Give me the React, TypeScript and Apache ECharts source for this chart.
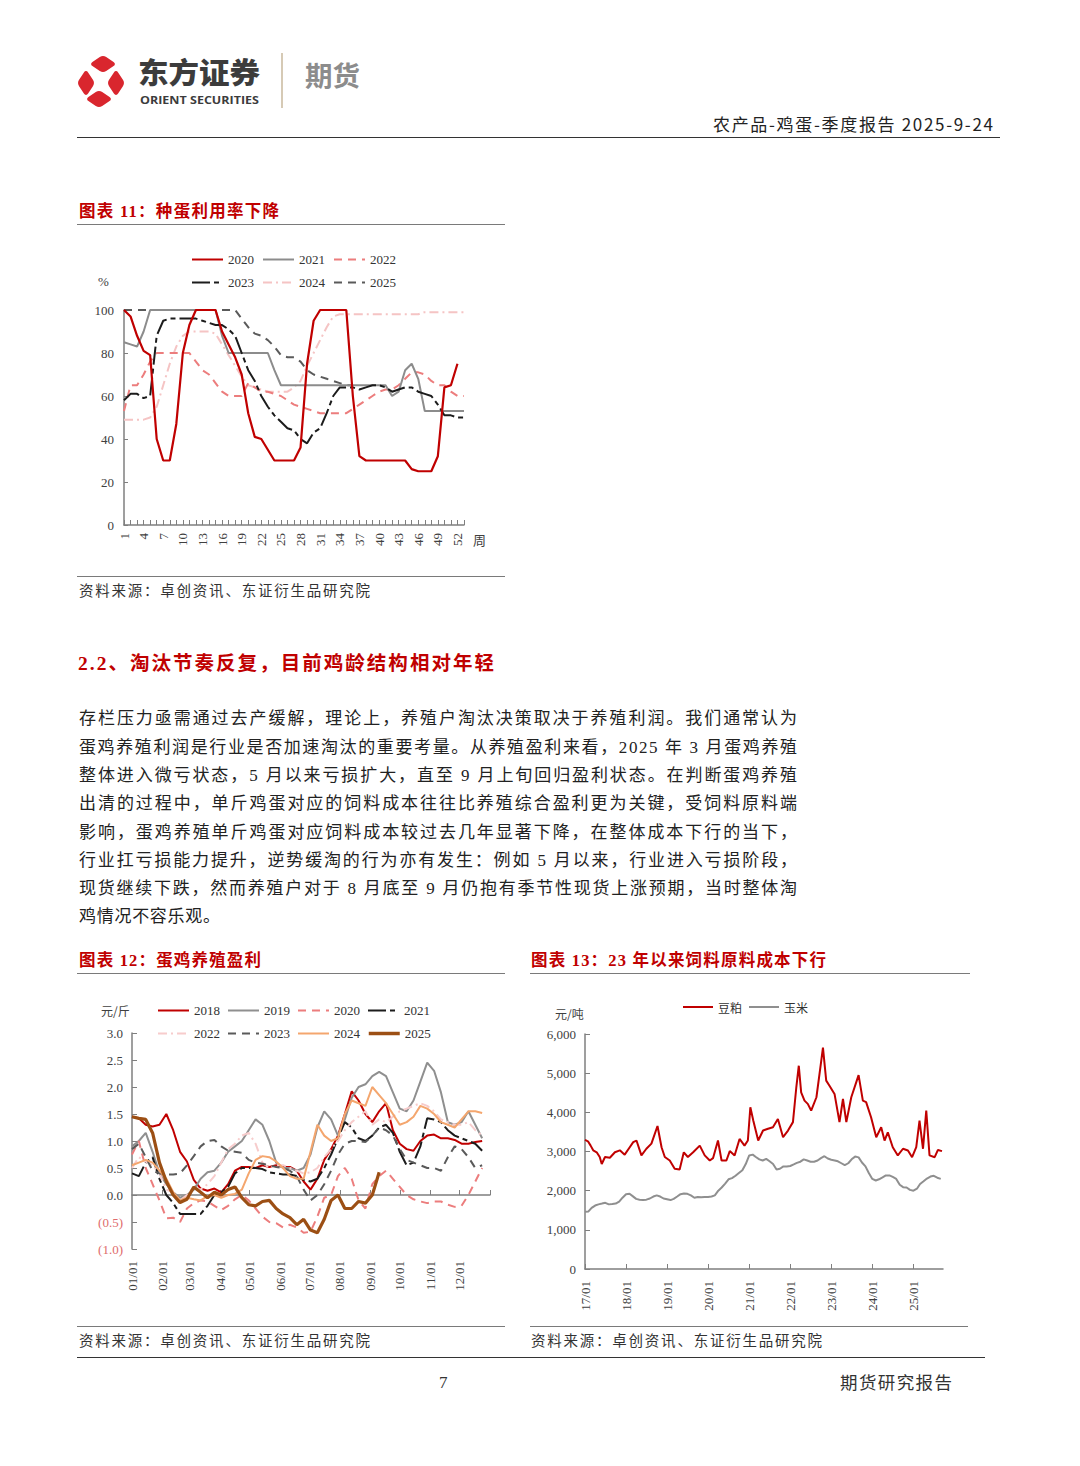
import React, { useEffect, useRef } from "react";
import * as echarts from "echarts";

const SERIF = "'Liberation Serif', 'Times New Roman', serif";
const CJK = "'Noto Sans CJK SC', sans-serif";
const MIX = "'Liberation Serif', 'Noto Sans CJK SC', serif";
const AXIS = "#7f7f7f";
const LABEL = "#404040";

// ---------------- Chart 11: 种蛋利用率 (%) by week ----------------
const weekLabels = Array.from({ length: 53 }, (_, i) => String(i + 1));
const hatch2020 = [100, 97, 88, 81, 79, 40, 30, 30, 47, 80, 93, 100, 100, 100, 100, 90, 84, 78, 70, 52, 41, 40, 35, 30, 30, 30, 30, 36, 75, 95, 100, 100, 100, 100, 100, 60, 32, 30, 30, 30, 30, 30, 30, 30, 26, 25, 25, 25, 32, 64, 65, 75, null];
const hatch2021 = [85, 84, 83, 90, 100, 100, 100, 100, 100, 100, 100, 100, 100, 100, 100, 88, 80, 80, 80, 80, 80, 80, 80, 72, 65, 65, 65, 65, 65, 65, 65, 65, 65, 65, 65, 65, 65, 65, 65, 65, 65, 60, 62, 72, 75, 68, 53, 53, 53, 53, 53, 53, 53];
const hatch2022 = [53, 65, 65, 70, 76, 80, 80, 80, 80, 80, 80, 76, 72, 70, 66, 62, 60, 60, 60, 66, 64, 62, 62, 61, 60, 58, 56, 55, 54, 53, 52, 52, 52, 52, 52, 54, 56, 58, 60, 62, 63, 63, 65, 68, 71, 71, 70, 67, 65, 65, 62, 60, 60];
const hatch2023 = [58, 61, 61, 59, 60, 88, 95, 96, 96, 96, 96, 96, 95, 94, 93, 93, 91, 88, 80, 72, 67, 60, 55, 51, 48, 45, 44, 40, 38, 43, 45, 52, 60, 64, 64, 64, 63, 64, 65, 65, 64, 62, 63, 64, 64, 62, 61, 60, 56, 51, 51, 50, 50];
const hatch2024 = [49, 49, 49, 49, 50, 55, 65, 75, 83, 88, 90, 90, 90, 90, 89, 84, 79, 74, 69, 65, 64, 63, 62, 62, 62, 62, 64, 67, 74, 80, 86, 92, 97, 98, 98, 98, 98, 98, 98, 98, 98, 98, 98, 98, 98, 98, 99, 99, 99, 99, 99, 99, 99];
const hatch2025 = [100, 100, 100, 100, 100, 100, 100, 100, 100, 100, 100, 100, 100, 100, 100, 100, 100, 100, 96, 92, 89, 88, 86, 83, 79, 78, 78, 76, 72, 70, 69, 68, 67, 66, 65, 65];

// ---------------- Chart 12: 蛋鸡养殖盈利 (元/斤), weekly ----------------
const monthStartDays = [0, 31, 59, 90, 120, 151, 181, 212, 243, 273, 304, 334];
const monthTickDays = [31, 59, 90, 120, 151, 181, 212, 243, 273, 304, 334, 365];
const monthLabels = ["01/01", "02/01", "03/01", "04/01", "05/01", "06/01", "07/01", "08/01", "09/01", "10/01", "11/01", "12/01"];
const weekDays = Array.from({ length: 52 }, (_, i) => i * 7);
const profit2018 = [1.45, 1.42, 1.3, 1.27, 1.3, 1.5, 1.2, 0.8, 0.62, 0.28, 0.12, 0.08, 0.12, 0.05, 0.2, 0.45, 0.52, 0.52, 0.5, 0.55, 0.52, 0.55, 0.52, 0.52, 0.45, 0.25, 0.1, 0.3, 0.65, 0.85, 1.1, 1.5, 1.92, 1.75, 1.5, 1.35, 1.55, 1.7, 1.2, 0.95, 0.85, 0.82, 1.0, 1.1, 1.12, 1.05, 1.05, 1.02, 0.95, 0.95, 0.98, 1.0];
const profit2019 = [0.9, 1.0, 1.15, 0.8, 0.4, 0.2, 0.05, -0.05, 0.0, 0.1, 0.3, 0.42, 0.45, 0.6, 0.8, 0.9, 1.0, 1.2, 1.4, 1.3, 1.0, 0.6, 0.5, 0.5, 0.45, 0.5, 0.75, 1.25, 1.55, 1.4, 1.1, 1.4, 1.8, 2.0, 2.05, 2.2, 2.28, 2.2, 1.9, 1.6, 1.55, 1.75, 2.1, 2.45, 2.3, 1.9, 1.35, 1.3, 1.35, 1.55, 1.3, 1.05];
const profit2020 = [0.75, 1.0, 0.5, 0.2, -0.1, -0.43, -0.42, -0.5, -0.25, -0.15, -0.1, -0.12, -0.2, -0.28, -0.2, -0.08, 0.0, -0.1, -0.25, -0.4, -0.5, -0.52, -0.6, -0.55, -0.6, -0.7, -0.68, -0.4, -0.05, 0.0, 0.35, 0.5, 0.3, -0.1, -0.25, 0.2, 0.35, 0.45, 0.3, 0.15, 0.0, -0.08, -0.12, -0.15, -0.12, -0.12, -0.18, -0.22, -0.2, 0.0, 0.25, 0.5];
const profit2021 = [0.4, 0.35, 0.6, 0.7, 0.3, 0.0, -0.15, -0.35, -0.35, -0.35, -0.35, -0.2, 0.0, 0.05, 0.15, 0.4, 0.5, 0.5, 0.5, 0.48, 0.42, 0.4, 0.38, 0.38, 0.35, 0.28, 0.25, 0.3, 0.5, 0.75, 1.05, 1.35, 1.25, 1.05, 1.0, 1.1, 1.25, 1.3, 1.15, 0.8, 0.55, 0.6, 0.9, 1.42, 1.4, 1.35, 1.2, 1.1, 1.05, 1.0, 0.95, 0.82];
const profit2022 = [0.5, 0.7, 0.62, 0.55, 0.4, 0.1, 0.05, -0.1, 0.0, 0.15, 0.1, 0.2, 0.35, 0.6, 0.85, 0.95, 1.1, 1.15, 0.95, 0.6, 0.5, 0.55, 0.55, 0.5, 0.45, 0.4, 0.42, 0.5, 0.7, 0.85, 1.0, 1.2, 1.35, 1.45, 1.55, 1.3, 1.4, 1.35, 1.45, 1.55, 1.6, 1.65, 1.7, 1.65, 1.55, 1.4, 1.35, 1.3, 1.3, 1.35, 1.2, 1.1];
const profit2023 = [0.85, 0.95, 0.7, 0.45, 0.4, 0.38, 0.38, 0.4, 0.55, 0.72, 0.9, 1.0, 1.02, 0.9, 0.82, 0.8, 0.78, 0.65, 0.6, 0.58, 0.55, 0.52, 0.5, 0.45, 0.35, 0.1, -0.1, 0.0, 0.2, 0.45, 0.75, 0.95, 1.0, 1.0, 0.98, 1.1, 1.25, 1.2, 1.1, 0.85, 0.65, 0.6, 0.55, 0.5, 0.5, 0.45, 0.7, 0.9, 0.85, 0.7, 0.5, 0.55];
const profit2024 = [0.55, 0.6, 0.65, 0.6, 0.45, 0.3, 0.05, -0.1, -0.05, -0.08, -0.1, -0.02, 0.0, -0.05, 0.0, 0.02, 0.1, 0.4, 0.65, 0.72, 0.7, 0.62, 0.5, 0.35, 0.3, 0.3, 0.8, 1.3, 1.1, 1.0, 1.05, 1.5, 1.75, 1.7, 1.65, 2.0, 1.85, 1.7, 1.5, 1.3, 1.35, 1.45, 1.65, 1.6, 1.5, 1.35, 1.3, 1.25, 1.4, 1.55, 1.55, 1.52];
const profit2025 = [1.45, 1.42, 1.4, 1.15, 0.6, 0.25, 0.0, -0.14, -0.08, 0.15, 0.05, -0.05, 0.05, 0.0, 0.1, 0.15, -0.05, -0.18, -0.2, -0.12, -0.1, -0.25, -0.35, -0.42, -0.55, -0.45, -0.65, -0.7, -0.45, -0.1, 0.0, -0.25, -0.25, -0.12, -0.15, 0.0, 0.42];

// ---------------- Chart 13: 豆粕 / 玉米 (元/吨) ----------------
const yearLabels = ["17/01", "18/01", "19/01", "20/01", "21/01", "22/01", "23/01", "24/01", "25/01"];
const yearTicks = [0, 1, 2, 3, 4, 5, 6, 7, 8];
const soymeal: [string, number][] = [
  ["2017-01-01", 3300], ["2017-01-30", 3250], ["2017-02-20", 3150], ["2017-03-15", 3030], ["2017-04-15", 2980], ["2017-05-12", 2860], ["2017-05-30", 2680], ["2017-06-28", 2860], ["2017-08-10", 2840], ["2017-09-24", 2980], ["2017-11-07", 3030], ["2017-12-20", 2920],
  ["2018-02-03", 3110], ["2018-03-06", 3240], ["2018-04-04", 3280], ["2018-05-18", 2900], ["2018-07-01", 3070], ["2018-08-15", 3200], ["2018-10-08", 3650], ["2018-11-13", 3110], ["2018-12-12", 2860],
  ["2019-01-25", 2770], ["2019-03-10", 2560], ["2019-04-23", 2540], ["2019-05-30", 2980], ["2019-07-05", 2860], ["2019-08-21", 2980], ["2019-10-19", 3150], ["2019-12-02", 2900],
  ["2020-01-16", 2770], ["2020-02-14", 2830], ["2020-03-29", 3280], ["2020-04-30", 2770], ["2020-06-12", 2770], ["2020-07-12", 3010], ["2020-08-24", 2900], ["2020-10-07", 3320], ["2020-11-20", 3150], ["2020-12-20", 3280],
  ["2021-01-11", 4130], ["2021-02-06", 3790], ["2021-03-22", 3280], ["2021-05-04", 3535], ["2021-06-17", 3580], ["2021-07-31", 3620], ["2021-09-13", 3830], ["2021-10-29", 3365], ["2021-12-12", 3535],
  ["2022-01-25", 3750], ["2022-02-24", 4640], ["2022-03-18", 5190], ["2022-04-08", 4510], ["2022-05-08", 4300], ["2022-06-06", 4215], ["2022-07-06", 4045], ["2022-08-22", 4385], ["2022-10-04", 5320], ["2022-10-19", 5650], ["2022-11-17", 4810], ["2022-12-16", 4680],
  ["2023-01-30", 4470], ["2023-03-15", 3750], ["2023-04-15", 4340], ["2023-05-15", 3750], ["2023-06-28", 4385], ["2023-09-01", 4950], ["2023-10-09", 4300], ["2023-11-07", 4260], ["2023-12-21", 3875],
  ["2024-02-05", 3365], ["2024-03-20", 3620], ["2024-04-19", 3280], ["2024-05-18", 3490], ["2024-07-01", 3110], ["2024-08-15", 2900], ["2024-09-30", 3070], ["2024-11-13", 3025], ["2024-12-20", 2855],
  ["2025-01-26", 3110], ["2025-02-24", 3790], ["2025-03-27", 3070], ["2025-04-25", 4045], ["2025-05-24", 2900], ["2025-07-09", 2855], ["2025-08-07", 3040], ["2025-09-12", 3010],
];
const cornStart = "2017-01";
const cornMonthly = [
  1460, 1470, 1560, 1620, 1650, 1670, 1690, 1650, 1660, 1670, 1720, 1820,
  1910, 1920, 1860, 1790, 1770, 1760, 1770, 1800, 1850, 1880, 1850, 1800,
  1780, 1760, 1790, 1850, 1910, 1930, 1920, 1880, 1820, 1840, 1830, 1840,
  1840, 1850, 1880, 2000, 2080, 2180, 2290, 2320, 2380, 2450, 2520, 2680,
  2900, 2920, 2860, 2800, 2770, 2810, 2750, 2680, 2540, 2560, 2620, 2620,
  2630, 2670, 2710, 2740, 2800, 2770, 2740, 2740, 2770, 2830, 2880, 2820,
  2790, 2770, 2750, 2700, 2650, 2700, 2800, 2870, 2850, 2720, 2620, 2450,
  2300, 2260, 2290, 2340, 2390, 2390, 2350, 2300, 2150, 2090, 2080, 2020,
  2000, 2050, 2170, 2240, 2310, 2360, 2380, 2330, 2300,
];

const BASE = Date.UTC(2017, 0, 1);
const YEAR_MS = 365.25 * 86400000;
const yearsSince2017 = (s: string) => {
  const [y, m, d] = s.split("-").map(Number);
  return (Date.UTC(y, m - 1, d || 1) - BASE) / YEAR_MS;
};

const fmtThousands = (v: number) => String(v).replace(/\B(?=(\d{3})+(?!\d))/g, ",");

const legendText = { fontFamily: SERIF, fontSize: 13, color: "#333" };
const axisLineStyle = { color: AXIS, width: 1.5 };
const hiddenSymbol = { opacity: 0, color: "transparent", borderWidth: 0 };

const lineSeries = (name: string, data: any[], color: string, type: any, width = 2, extra: any = {}) => ({
  name,
  type: "line",
  data,
  symbol: "none",
  silent: true,
  connectNulls: false,
  itemStyle: { color },
  lineStyle: { color, width, type },
  ...extra,
});

const legendBase = { itemWidth: 31, itemHeight: 14, itemGap: 8, textStyle: legendText, itemStyle: hiddenSymbol, lineStyle: { width: 2 } };

const option11 = {
  animation: false,
  legend: [
    { ...legendBase, data: ["2020", "2021", "2022"], left: 110, top: 13 },
    { ...legendBase, data: ["2023", "2024", "2025"], left: 110, top: 36 },
  ],
  grid: { left: 48, top: 75, width: 340, height: 215, outerBoundsMode: "none" },
  xAxis: {
    type: "category",
    data: weekLabels,
    boundaryGap: false,
    axisLine: { lineStyle: axisLineStyle },
    axisTick: { show: true, inside: true, length: 5, interval: 0, lineStyle: { color: AXIS } },
    axisLabel: { interval: 2, rotate: 90, margin: 8, fontFamily: SERIF, fontSize: 13, color: LABEL },
    splitLine: { show: false },
  },
  yAxis: {
    type: "value",
    min: 0,
    max: 100,
    interval: 20,
    axisLine: { show: true, lineStyle: axisLineStyle },
    axisTick: { show: true, inside: true, length: 4, lineStyle: { color: AXIS } },
    axisLabel: { margin: 10, fontFamily: SERIF, fontSize: 13, color: LABEL },
    splitLine: { show: false },
  },
  graphic: [
    { type: "text", left: 22, top: 40, style: { text: "%", font: `13px ${SERIF}`, fill: LABEL } },
    { type: "text", left: 397, top: 298, style: { text: "周", font: `13px ${CJK}`, fill: LABEL } },
  ],
  series: [
    lineSeries("2025", hatch2025, "#5a5a5a", [8, 6]),
    lineSeries("2024", hatch2024, "#f5c4c4", [9, 4, 2, 4]),
    lineSeries("2022", hatch2022, "#ec7d7d", [8, 6]),
    lineSeries("2021", hatch2021, "#8c8c8c", "solid"),
    lineSeries("2023", hatch2023, "#1c1c1c", [18, 4, 5, 4]),
    lineSeries("2020", hatch2020, "#c00000", "solid", 2.2),
  ],
};

const weekPairs = (vals: number[]) => vals.map((v, i) => [weekDays[i], v]);

const option12 = {
  animation: false,
  legend: [
    { ...legendBase, itemGap: 7, data: ["2018", "2019", "2020", "2021"], left: 76, top: 9 },
    { ...legendBase, itemGap: 7, data: ["2022", "2023", "2024", { name: "2025", lineStyle: { width: 3.5 } }], left: 76, top: 32 },
  ],
  grid: { left: 56, top: 43, width: 358, height: 216, outerBoundsMode: "none" },
  xAxis: [
    {
      type: "value",
      min: 0,
      max: 365,
      position: "bottom",
      axisLine: { show: false, onZero: false },
      axisTick: { show: false },
      splitLine: { show: false },
      axisLabel: {
        customValues: monthStartDays,
        formatter: (v: number) => monthLabels[monthStartDays.indexOf(Math.round(v))] ?? "",
        rotate: 90,
        margin: 12,
        fontFamily: SERIF,
        fontSize: 13,
        color: LABEL,
      },
    },
    {
      type: "value",
      min: 0,
      max: 365,
      position: "bottom",
      axisLine: { show: true, onZero: true, lineStyle: axisLineStyle },
      axisTick: { show: true, inside: true, length: 5, customValues: monthTickDays, lineStyle: { color: AXIS } },
      axisLabel: { show: false },
      splitLine: { show: false },
    },
  ],
  yAxis: {
    type: "value",
    min: -1,
    max: 3,
    interval: 0.5,
    axisLine: { show: true, lineStyle: axisLineStyle },
    axisTick: { show: true, inside: true, length: 5, lineStyle: { color: AXIS } },
    axisLabel: {
      margin: 9,
      fontFamily: SERIF,
      fontSize: 13,
      color: LABEL,
      formatter: (v: number) => (v < 0 ? `{neg|(${Math.abs(v).toFixed(1)})}` : v.toFixed(1)),
      rich: { neg: { color: "#e06c6c", fontFamily: SERIF, fontSize: 13 } },
    },
    splitLine: { show: false },
  },
  graphic: [{ type: "text", left: 25, top: 14, style: { text: "元/斤", font: `12px ${CJK}`, fill: LABEL } }],
  series: [
    lineSeries("2018", weekPairs(profit2018), "#c00000", "solid", 2),
    lineSeries("2019", weekPairs(profit2019), "#8f8f8f", "solid", 2),
    lineSeries("2020", weekPairs(profit2020), "#ec7d7d", [8, 6], 2),
    lineSeries("2021", weekPairs(profit2021), "#1c1c1c", [18, 4, 5, 4], 2),
    lineSeries("2022", weekPairs(profit2022), "#f7cccc", [9, 4, 2, 4], 2),
    lineSeries("2023", weekPairs(profit2023), "#5a5a5a", [8, 6], 2),
    lineSeries("2024", weekPairs(profit2024), "#f4a66e", "solid", 2),
    lineSeries("2025", weekPairs(profit2025), "#9c4f14", "solid", 3.2),
  ],
};

const cornPairs = cornMonthly.map((v, i) => {
  const [y0, m0] = cornStart.split("-").map(Number);
  const idx = m0 - 1 + i;
  const y = y0 + Math.floor(idx / 12);
  const m = (idx % 12) + 1;
  return [yearsSince2017(`${y}-${String(m).padStart(2, "0")}-01`), v];
});

const option13 = {
  animation: false,
  legend: {
    ...legendBase,
    data: ["豆粕", "玉米"],
    left: 147,
    top: 6,
    itemWidth: 30,
    itemGap: 6,
    textStyle: { fontFamily: CJK, fontSize: 12, color: "#333" },
  },
  grid: { left: 55, top: 44, width: 358, height: 235, outerBoundsMode: "none" },
  xAxis: {
    type: "value",
    min: 0,
    max: 8.72,
    axisLine: { show: true, lineStyle: axisLineStyle },
    axisTick: { show: true, inside: true, length: 5, customValues: yearTicks, lineStyle: { color: AXIS } },
    axisLabel: {
      customValues: yearTicks,
      formatter: (v: number) => yearLabels[Math.round(v)] ?? "",
      rotate: 90,
      margin: 12,
      fontFamily: SERIF,
      fontSize: 13,
      color: LABEL,
    },
    splitLine: { show: false },
  },
  yAxis: {
    type: "value",
    min: 0,
    max: 6000,
    interval: 1000,
    axisLine: { show: true, lineStyle: axisLineStyle },
    axisTick: { show: true, inside: true, length: 5, lineStyle: { color: AXIS } },
    axisLabel: { margin: 9, fontFamily: SERIF, fontSize: 13, color: LABEL, formatter: (v: number) => fmtThousands(v) },
    splitLine: { show: false },
  },
  graphic: [{ type: "text", left: 25, top: 17, style: { text: "元/吨", font: `12px ${CJK}`, fill: LABEL } }],
  series: [
    lineSeries("豆粕", soymeal.map(([d, v]) => [yearsSince2017(d), v]), "#c00000", "solid", 2),
    lineSeries("玉米", cornPairs, "#8f8f8f", "solid", 2),
  ],
};

function EChart({ option, style }: { option: any; style: React.CSSProperties }) {
  const ref = useRef<HTMLDivElement>(null);
  useEffect(() => {
    if (!ref.current) return;
    const chart = echarts.init(ref.current, undefined, { renderer: "svg" });
    chart.setOption(option);
    return () => chart.dispose();
  }, [option]);
  return <div ref={ref} style={style} />;
}

const paragraph = [
  "存栏压力亟需通过去产缓解，理论上，养殖户淘汰决策取决于养殖利润。我们通常认为",
  "蛋鸡养殖利润是行业是否加速淘汰的重要考量。从养殖盈利来看，2025 年 3 月蛋鸡养殖",
  "整体进入微亏状态，5 月以来亏损扩大，直至 9 月上旬回归盈利状态。在判断蛋鸡养殖",
  "出清的过程中，单斤鸡蛋对应的饲料成本往往比养殖综合盈利更为关键，受饲料原料端",
  "影响，蛋鸡养殖单斤鸡蛋对应饲料成本较过去几年显著下降，在整体成本下行的当下，",
  "行业扛亏损能力提升，逆势缓淘的行为亦有发生：例如 5 月以来，行业进入亏损阶段，",
  "现货继续下跌，然而养殖户对于 8 月底至 9 月仍抱有季节性现货上涨预期，当时整体淘",
  "鸡情况不容乐观。",
];
const paraBaselines = [724, 753, 781, 809, 838, 866, 894, 922];

const RED = "#c00000";

function Page() {
  return (
    <svg width={1080} height={1466} style={{ position: "absolute", left: 0, top: 0 }}>
      {/* logo */}
      <g fill="#d9262e">
        <rect x={-7.5} y={-7.5} width={15} height={15} rx={3.5} transform="translate(103,64) scale(1.3,0.85) rotate(45)" />
        <rect x={-7.5} y={-7.5} width={15} height={15} rx={3.5} transform="translate(99,99) scale(1.3,0.85) rotate(45)" />
        <rect x={-7.5} y={-7.5} width={15} height={15} rx={3.5} transform="translate(86,83) scale(0.85,1.3) rotate(45)" />
        <rect x={-7.5} y={-7.5} width={15} height={15} rx={3.5} transform="translate(116,83) scale(0.85,1.3) rotate(45)" />
      </g>
      <text x={138} y={84} fontFamily={CJK} fontSize={29} fontWeight={900} fill="#3c3c3c" textLength={122} lengthAdjust="spacingAndGlyphs">东方证券</text>
      <text x={140} y={104} fontFamily="'Open Sans', sans-serif" fontSize={11} fontWeight={700} fill="#3c3c3c" textLength={119} lengthAdjust="spacingAndGlyphs">ORIENT SECURITIES</text>
      <line x1={282} y1={53} x2={282} y2={108} stroke="#c9b99d" strokeWidth={1.5} />
      <text x={305} y={86} fontFamily={CJK} fontSize={27} fontWeight={700} fill="#8c8c8c" textLength={55} lengthAdjust="spacingAndGlyphs">期货</text>
      <text x={713} y={131} fontFamily={CJK} fontSize={17} fill="#222" textLength={280}>农产品-鸡蛋-季度报告 2025-9-24</text>
      <line x1={77} y1={137.5} x2={1000} y2={137.5} stroke="#333" strokeWidth={1.2} />

      {/* chart 11 frame */}
      <text x={79} y={217} fontFamily={MIX} fontSize={16.5} fontWeight={700} fill={RED} textLength={200}>图表 11：种蛋利用率下降</text>
      <line x1={77} y1={224.5} x2={505} y2={224.5} stroke="#7a7a7a" strokeWidth={1.2} />
      <line x1={77} y1={576.5} x2={505} y2={576.5} stroke="#7a7a7a" strokeWidth={1.2} />
      <text x={79} y={596} fontFamily={CJK} fontSize={14.5} fill="#333" textLength={291}>资料来源：卓创资讯、东证衍生品研究院</text>

      {/* section */}
      <text x={78} y={670} fontFamily={MIX} fontSize={19.5} fontWeight={700} fill={RED} textLength={416}>2.2、淘汰节奏反复，目前鸡龄结构相对年轻</text>
      {paragraph.map((line, i) => (
        <text key={i} x={79} y={paraBaselines[i]} fontFamily={MIX} fontSize={17} fill="#222" textLength={i === paragraph.length - 1 ? 141 : 718}>{line}</text>
      ))}

      {/* chart 12/13 frames */}
      <text x={79} y={966} fontFamily={MIX} fontSize={16.5} fontWeight={700} fill={RED} textLength={182}>图表 12：蛋鸡养殖盈利</text>
      <line x1={77} y1={973.5} x2={505} y2={973.5} stroke="#7a7a7a" strokeWidth={1.2} />
      <text x={531} y={966} fontFamily={MIX} fontSize={16.5} fontWeight={700} fill={RED} textLength={295}>图表 13：23 年以来饲料原料成本下行</text>
      <line x1={530} y1={973.5} x2={970} y2={973.5} stroke="#7a7a7a" strokeWidth={1.2} />
      <line x1={77} y1={1326.5} x2={505} y2={1326.5} stroke="#7a7a7a" strokeWidth={1.2} />
      <line x1={530} y1={1326.5} x2={968} y2={1326.5} stroke="#7a7a7a" strokeWidth={1.2} />
      <text x={79} y={1346} fontFamily={CJK} fontSize={14.5} fill="#333" textLength={291}>资料来源：卓创资讯、东证衍生品研究院</text>
      <text x={531} y={1346} fontFamily={CJK} fontSize={14.5} fill="#333" textLength={291}>资料来源：卓创资讯、东证衍生品研究院</text>

      {/* footer */}
      <line x1={77} y1={1357.5} x2={985} y2={1357.5} stroke="#333" strokeWidth={1.2} />
      <text x={439} y={1388} fontFamily={SERIF} fontSize={17} fill="#333">7</text>
      <text x={840} y={1389} fontFamily={CJK} fontSize={17.5} fill="#333" textLength={112}>期货研究报告</text>
    </svg>
  );
}

export default function App() {
  return (
    <div style={{ position: "absolute", left: 0, top: 0, width: 1080, height: 1466, background: "#fff", overflow: "hidden" }}>
      <Page />
      <EChart option={option11} style={{ position: "absolute", left: 76, top: 235, width: 430, height: 330 }} />
      <EChart option={option12} style={{ position: "absolute", left: 76, top: 990, width: 430, height: 325 }} />
      <EChart option={option13} style={{ position: "absolute", left: 530, top: 990, width: 440, height: 330 }} />
    </div>
  );
}
